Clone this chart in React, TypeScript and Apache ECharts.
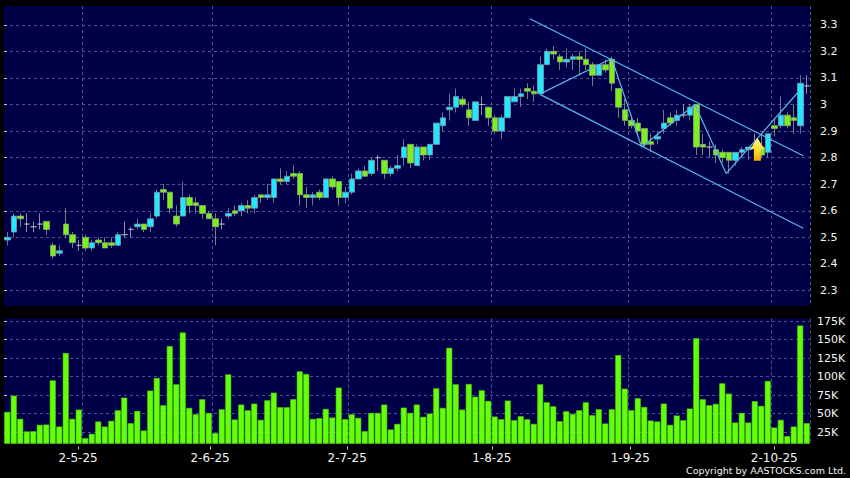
import React, { useEffect, useRef } from "react";
import * as echarts from "echarts";

const opens = [2.49,2.52,2.58,2.55,2.54,2.55,2.56,2.47,2.44,2.55,2.51,2.47,2.50,2.46,2.49,2.48,2.48,2.47,2.51,2.53,2.54,2.55,2.54,2.58,2.68,2.67,2.58,2.58,2.65,2.63,2.62,2.59,2.57,2.55,2.58,2.60,2.60,2.62,2.61,2.66,2.65,2.65,2.72,2.71,2.74,2.74,2.66,2.65,2.67,2.65,2.72,2.71,2.65,2.67,2.72,2.75,2.74,2.80,2.79,2.74,2.76,2.80,2.85,2.77,2.84,2.81,2.85,2.92,2.98,2.99,3.02,2.98,2.94,3.00,2.99,2.95,2.90,2.95,3.01,3.03,3.06,3.05,3.04,3.15,3.20,3.18,3.16,3.17,3.18,3.17,3.15,3.11,3.15,3.17,3.06,2.98,2.94,2.93,2.91,2.86,2.87,2.91,2.95,2.94,2.96,2.96,3.00,2.85,2.84,2.83,2.82,2.82,2.79,2.82,2.83,2.84,2.84,2.82,2.92,2.92,2.96,2.95,2.92,3.07];
const closes = [2.50,2.58,2.57,2.55,2.54,2.55,2.53,2.43,2.45,2.51,2.48,2.47,2.46,2.48,2.48,2.46,2.47,2.51,2.51,2.53,2.55,2.53,2.57,2.67,2.67,2.61,2.55,2.65,2.62,2.62,2.59,2.57,2.54,2.55,2.59,2.59,2.62,2.61,2.65,2.65,2.66,2.72,2.71,2.73,2.73,2.66,2.65,2.66,2.65,2.72,2.69,2.65,2.67,2.72,2.75,2.73,2.79,2.80,2.74,2.76,2.77,2.84,2.78,2.84,2.81,2.85,2.93,2.95,2.99,3.03,3.00,2.95,3.01,3.00,2.95,2.90,2.95,3.03,3.03,3.04,3.05,3.04,3.15,3.20,3.19,3.16,3.17,3.18,3.17,3.15,3.11,3.15,3.13,3.08,2.99,2.94,2.92,2.90,2.85,2.85,2.88,2.93,2.93,2.96,2.96,2.99,2.84,2.84,2.84,2.81,2.80,2.79,2.82,2.83,2.84,2.84,2.81,2.89,2.91,2.96,2.92,2.94,3.08,3.07];
const lows = [2.47,2.50,2.54,2.52,2.52,2.53,2.51,2.42,2.43,2.50,2.46,2.45,2.45,2.45,2.47,2.46,2.46,2.47,2.50,2.50,2.53,2.52,2.52,2.57,2.64,2.59,2.54,2.58,2.59,2.59,2.57,2.57,2.47,2.53,2.57,2.58,2.58,2.59,2.59,2.63,2.64,2.63,2.70,2.70,2.72,2.62,2.61,2.62,2.64,2.65,2.68,2.62,2.63,2.66,2.72,2.73,2.73,2.75,2.72,2.73,2.75,2.77,2.76,2.77,2.79,2.79,2.85,2.90,2.94,2.97,2.99,2.92,2.94,2.96,2.92,2.89,2.87,2.95,3.01,2.99,3.02,3.01,3.04,3.15,3.17,3.13,3.14,3.13,3.11,3.13,3.07,3.11,3.12,3.05,2.95,2.92,2.91,2.89,2.84,2.82,2.85,2.89,2.92,2.92,2.95,2.94,2.81,2.81,2.80,2.78,2.78,2.74,2.77,2.80,2.79,2.80,2.80,2.80,2.88,2.91,2.91,2.89,2.89,3.04];
const highs = [2.52,2.59,2.59,2.59,2.56,2.59,2.56,2.48,2.47,2.61,2.52,2.49,2.51,2.49,2.50,2.50,2.50,2.52,2.56,2.54,2.57,2.55,2.59,2.68,2.70,2.67,2.62,2.71,2.66,2.65,2.62,2.60,2.59,2.57,2.61,2.62,2.63,2.64,2.66,2.66,2.70,2.72,2.76,2.75,2.77,2.75,2.69,2.67,2.68,2.72,2.73,2.71,2.69,2.74,2.76,2.77,2.80,2.81,2.79,2.77,2.81,2.87,2.85,2.85,2.84,2.85,2.93,2.97,3.04,3.06,3.03,3.01,3.01,3.03,2.99,2.96,2.96,3.03,3.06,3.06,3.08,3.07,3.18,3.21,3.22,3.19,3.21,3.19,3.20,3.21,3.16,3.15,3.17,3.18,3.06,3.02,2.95,2.95,2.91,2.89,2.90,2.98,2.97,2.98,3.00,3.00,3.00,2.89,2.86,2.85,2.83,2.82,2.82,2.84,2.84,2.89,2.89,2.89,2.95,3.03,2.97,3.00,3.11,3.11];
const volumes = [52.4,74.4,43,26,26.3,34.9,35.3,95,32.6,131.9,43,55.5,17,22.8,39.4,32.6,40.3,54.6,71.7,37.1,53.7,27.2,81.1,98.2,61.4,141.3,89.7,159.7,57.8,49.2,69.5,51,23.7,56,103.1,42.1,62.3,54.6,63.6,41.6,68.1,78.4,58.7,58.7,69.5,107.2,103.6,43,43.9,56.4,44.8,85.2,42.5,49.2,44.3,26.3,51,51,62.3,28.6,36.2,58.2,51,62.3,45.7,50.1,84.3,57.8,139,89.7,55.5,90.1,73,81.6,67.2,46.1,42.5,67.7,41.2,46.6,42.5,36.2,89.7,65.4,60,39.8,53.3,49.7,54.6,65.4,47.9,56,36.7,56,129.2,83.8,54.6,70.8,59.1,40.7,39.4,63.6,34.9,47.5,41.2,56.9,152,69.5,61.4,63.2,91,77.1,38,51,38,66.8,60.5,94.2,31.3,41.6,19.6,32.6,169.1,37.1];
const categories = opens.map((_, i) => String(i));

const monthStartSlots = [12, 32, 53, 75, 96, 118];
const dateTickSlots = [11.4, 31.7, 52.8, 75.05, 96.35, 118.5];
const dateTickLabels = ["2-5-25", "2-6-25", "2-7-25", "1-8-25", "1-9-25", "2-10-25"];
const priceTicks = [2.3, 2.4, 2.5, 2.6, 2.7, 2.8, 2.9, 3.0, 3.1, 3.2, 3.3];
const volumeTicks = [25, 50, 75, 100, 125, 150, 175];

const channelUpper = [[80.9, 3.323], [122.97, 2.807]];
const channelLower = [[82.46, 3.038], [122.97, 2.534]];
const zigzag = [[82.5, 3.04], [93.5, 3.173], [98.1, 2.84], [106.3, 3.0], [111.1, 2.74], [122.2, 3.047]];
const arrowSignal = [[115.9, 2.832]];

const GRID_LINE = "#505090";
const TEXT = "#f4f4f4";
const FONT = "'DejaVu Sans', sans-serif";
const TREND = "#58b8ea";

const dashed = { show: true, lineStyle: { color: GRID_LINE, type: [3, 3] as any, width: 1 } };

function trendSeries(data: number[][]) {
  return {
    type: "line", xAxisIndex: 1, yAxisIndex: 0, data, symbol: "none", silent: true, z: 5,
    lineStyle: { color: TREND, width: 1.2 },
  };
}

function buildOption(): any {
  return {
    animation: false,
    backgroundColor: "#000000",
    textStyle: { fontFamily: FONT },
    grid: [
      { left: 4, right: 40, top: 6, height: 300, show: true, backgroundColor: "#000048", borderWidth: 0 },
      { left: 4, right: 40, top: 318.5, height: 125, show: true, backgroundColor: "#000048", borderWidth: 0 },
    ],
    xAxis: [
      {
        type: "category", gridIndex: 0, data: categories, boundaryGap: true,
        axisLine: { show: false }, axisTick: { show: false }, axisLabel: { show: false },
        splitLine: { ...dashed, interval: (i: number) => monthStartSlots.includes(i) },
      },
      { type: "value", gridIndex: 0, min: 0, max: categories.length, show: false },
      {
        type: "category", gridIndex: 1, data: categories, boundaryGap: true,
        axisLine: { show: false }, axisTick: { show: false }, axisLabel: { show: false },
        splitLine: { ...dashed, interval: (i: number) => monthStartSlots.includes(i) },
      },
      {
        type: "value", gridIndex: 1, min: 0, max: categories.length, position: "bottom", offset: 3,
        axisLine: { show: false },
        axisTick: { show: true, length: 3, inside: false, customValues: dateTickSlots, lineStyle: { color: "#c8c8c8" } },
        axisLabel: {
          show: true, customValues: dateTickSlots, color: TEXT, fontSize: 12, fontFamily: FONT, margin: 5, hideOverlap: false,
          showMinLabel: true, showMaxLabel: true,
          formatter: (v: number) => dateTickLabels[dateTickSlots.indexOf(v)] ?? "",
        },
        splitLine: { show: false },
      },
    ],
    yAxis: [
      {
        type: "value", gridIndex: 0, position: "right", offset: 3, min: 2.2417, max: 3.3707, scale: true,
        axisLine: { show: false },
        axisTick: { show: true, length: 3, customValues: priceTicks, lineStyle: { color: "#c8c8c8" } },
        axisLabel: {
          customValues: priceTicks, color: TEXT, fontSize: 11, fontFamily: FONT, margin: 7,
          formatter: (v: number) => String(Math.round(v * 10) / 10),
        },
        splitLine: { ...dashed, customValues: priceTicks },
      },
      {
        type: "value", gridIndex: 1, position: "right", offset: 3, min: 9.7, max: 178.6, scale: true,
        axisLine: { show: false },
        axisTick: { show: true, length: 3, customValues: volumeTicks, lineStyle: { color: "#c8c8c8" } },
        axisLabel: {
          customValues: volumeTicks, color: TEXT, fontSize: 11, fontFamily: FONT, margin: 4,
          formatter: (v: number) => `${v}K`,
        },
        splitLine: { ...dashed, customValues: volumeTicks },
      },
    ],
    series: [
      {
        type: "candlestick", xAxisIndex: 0, yAxisIndex: 0, barWidth: 6, silent: true, z: 3,
        data: opens.map((o, i) => [o, closes[i], lows[i], highs[i]]),
        itemStyle: {
          color: "#1fe8ff", color0: "#7cf01c",
          borderColor: "#7f96a4", borderColor0: "#8aa878", borderColorDoji: "#b4b4bc", borderWidth: 0.8,
        },
      },
      trendSeries(channelUpper),
      trendSeries(channelLower),
      trendSeries(zigzag),
      {
        type: "scatter", xAxisIndex: 1, yAxisIndex: 0, data: arrowSignal, silent: true, z: 6,
        symbol: "path://M7 0 L14 11 L10.5 11 L10.5 22 L3.5 22 L3.5 11 L0 11 Z",
        symbolSize: [14, 23],
        itemStyle: {
          color: new echarts.graphic.LinearGradient(0, 0, 0, 1, [
            { offset: 0, color: "#fff68e" },
            { offset: 0.55, color: "#ffdc30" },
            { offset: 1, color: "#f5aa00" },
          ]),
          opacity: 1,
        },
      },
      {
        type: "bar", xAxisIndex: 2, yAxisIndex: 1, data: volumes, barWidth: 6, silent: true, z: 3,
        itemStyle: { color: "#66ff0a", borderColor: "#4cc80a", borderWidth: 0.6 },
      },
    ],
    graphic: [
      {
        type: "text", right: 4, top: 465,
        style: { text: "Copyright by AASTOCKS.com Ltd.", fill: TEXT, font: `9.5px ${FONT}` },
      },
    ],
  };
}

export default function App() {
  const ref = useRef<HTMLDivElement>(null);
  useEffect(() => {
    if (!ref.current) return;
    const chart = echarts.init(ref.current, undefined, { renderer: "svg" });
    chart.setOption(buildOption());
    return () => chart.dispose();
  }, []);
  return <div ref={ref} style={{ position: "fixed", left: 0, top: 0, width: 850, height: 478, background: "#000" }} />;
}
